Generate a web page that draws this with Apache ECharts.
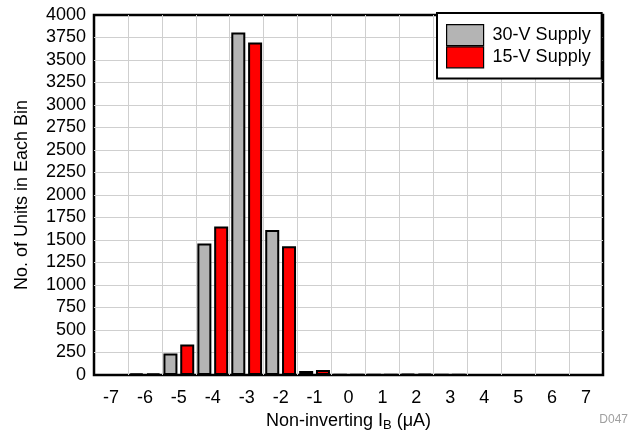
<!DOCTYPE html>
<html>
<head>
<meta charset="utf-8">
<script src="https://cdn.jsdelivr.net/npm/echarts@6/dist/echarts.min.js"></script>
<style>html,body{margin:0;padding:0;background:#fff}#c{width:639px;height:433px}</style>
</head>
<body>
<div id="c"></div>
<script>
const categories = ['-7','-6','-5','-4','-3','-2','-1','0','1','2','3','4','5','6','7'];
const supply30 = [2, 15, 240, 1460, 3805, 1610, 45, 4, 3, 12, 3, 2, 2, 2, 2];
const supply15 = [2, 15, 340, 1650, 3695, 1430, 55, 4, 3, 12, 3, 2, 2, 2, 2];
const yTicks = { min: 0, max: 4000, interval: 250 };
const seriesNames = ['30-V Supply', '15-V Supply'];

const FONT = '"Liberation Sans", Arial, Helvetica, sans-serif';
const chart = echarts.init(document.getElementById('c'), null, { renderer: 'canvas' });
chart.setOption({
  animation: false,
  backgroundColor: '#fff',
  textStyle: { fontFamily: FONT },
  title: {
    text: 'D047', right: 6, bottom: 2,
    textStyle: { fontSize: 12, fontWeight: 'normal', color: '#a0a0a0', fontFamily: FONT }
  },
  grid: {
    left: 94, right: 36, top: 15, bottom: 58,
    containLabel: false,
    outerBoundsMode: 'none',
    show: true, borderColor: '#000', borderWidth: 2.5, backgroundColor: '#fff'
  },
  legend: {
    left: 437, top: 13, orient: 'vertical',
    itemWidth: 37, itemHeight: 21, itemGap: 0,
    padding: [11, 11, 10, 9],
    backgroundColor: '#fff', borderColor: '#000', borderWidth: 2,
    formatter: name => '{t|' + name + '}',
    textStyle: {
      fontSize: 18, color: '#000', fontFamily: FONT,
      rich: { t: { fontSize: 18, color: '#000', fontFamily: FONT, padding: [0, 0, 0, 4] } }
    },
    itemStyle: { borderColor: '#000', borderWidth: 1.2 },
    icon: 'rect',
    data: seriesNames
  },
  xAxis: {
    type: 'category',
    data: categories,
    boundaryGap: true,
    axisLine: { show: false },
    axisTick: { show: false },
    axisLabel: { fontSize: 18, color: '#000', margin: 14, fontFamily: FONT, interval: 0 },
    splitLine: { show: true, interval: 0, showMinLine: false, showMaxLine: false, lineStyle: { color: '#cfcfcf', width: 1 } },
    name: '{a|Non-inverting I}{b|B}{a| (\u03bcA)}',
    nameLocation: 'middle',
    nameGap: 29,
    nameTextStyle: {
      rich: {
        a: { fontSize: 18, color: '#000', fontFamily: FONT, lineHeight: 22 },
        b: { fontSize: 13, color: '#000', fontFamily: FONT, verticalAlign: 'bottom', lineHeight: 22 }
      }
    }
  },
  yAxis: {
    type: 'value',
    min: yTicks.min, max: yTicks.max, interval: yTicks.interval,
    axisLine: { show: false },
    axisTick: { show: false },
    axisLabel: { fontSize: 18, color: '#000', margin: 8, fontFamily: FONT, formatter: v => String(v) },
    splitLine: { show: true, showMinLine: false, showMaxLine: false, lineStyle: { color: '#cfcfcf', width: 1 } },
    name: 'No. of Units in Each Bin',
    nameLocation: 'middle',
    nameGap: 63,
    nameTextStyle: { fontSize: 18, color: '#000', fontFamily: FONT }
  },
  series: [
    {
      name: seriesNames[0], type: 'bar', data: supply30,
      barWidth: 14, barGap: '20%',
      itemStyle: { color: '#b4b4b4', borderColor: '#000', borderWidth: 2 }
    },
    {
      name: seriesNames[1], type: 'bar', data: supply15,
      barWidth: 14, barGap: '20%',
      itemStyle: { color: '#ff0000', borderColor: '#000', borderWidth: 2 }
    }
  ]
});
</script>
</body>
</html>
